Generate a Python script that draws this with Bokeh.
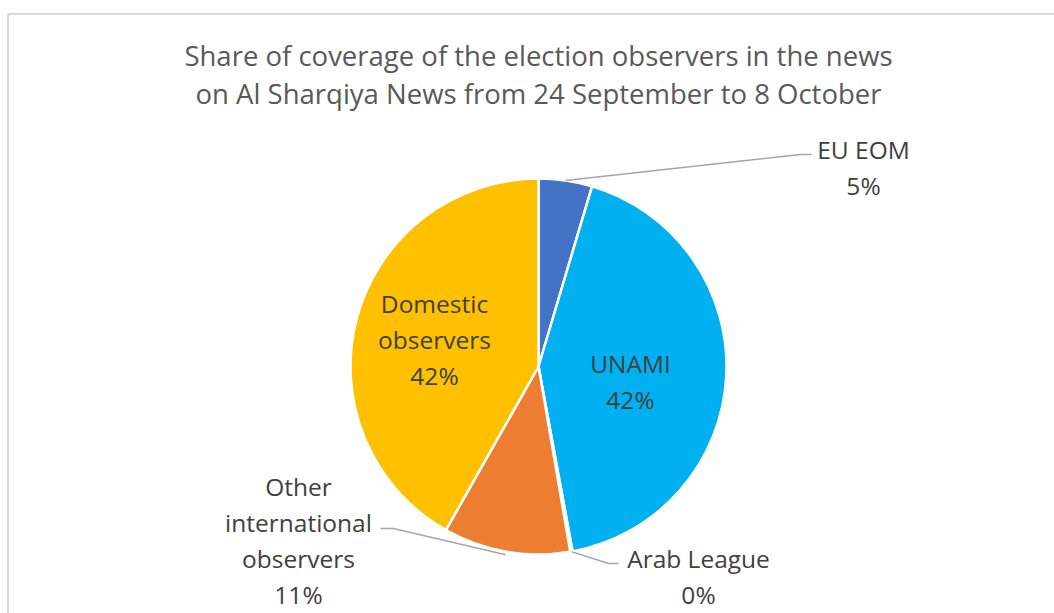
import math
from bokeh.plotting import figure
from bokeh.models import Range1d
from bokeh.core.properties import value
from bokeh.embed import file_html
from bokeh.resources import INLINE

# ---- data ----
categories = ["EU EOM", "UNAMI", "Arab League", "Other international observers", "Domestic observers"]
shares = [4.6, 42.5, 0.2, 10.9, 41.8]
pct_labels = ["5%", "42%", "0%", "11%", "42%"]
colors = ["#4472C4", "#00B0F0", "#A5A5A5", "#ED7D31", "#FFC000"]
title_lines = ["Share of coverage of the election observers in the news",
               "on Al Sharqiya News from 24 September to 8 October"]

W, H = 1054, 613
def px(x):  # screenshot x -> data x
    return x
def py(y):  # screenshot y -> data y
    return H - y

p = figure(width=W, height=H, output_backend="svg", toolbar_location=None,
           x_range=Range1d(0, W), y_range=Range1d(0, H),
           min_border=0, min_border_left=0, min_border_right=0,
           min_border_top=0, min_border_bottom=0)
p.axis.visible = False
p.grid.visible = False
p.outline_line_color = None
p.background_fill_color = "white"
p.border_fill_color = "white"

# chart frame (only top and left visible in window)
p.segment(x0=[px(7.5), px(7.5)], y0=[py(620), py(13.5)], x1=[px(7.5), px(1060)], y1=[py(13.5), py(13.5)],
          line_color="#D9D9D9", line_width=2)

# pie
cx, cy, r = px(538), py(366), 188
total = sum(shares)
cum = 0.0
starts, ends, mids = [], [], []
for s in shares:
    a0 = math.pi / 2 - 2 * math.pi * cum / total
    cum += s
    a1 = math.pi / 2 - 2 * math.pi * cum / total
    starts.append(a0)
    ends.append(a1)
    mids.append((a0 + a1) / 2)

p.wedge(x=[cx] * len(shares), y=[cy] * len(shares), radius=r, radius_units="screen",
        start_angle=starts, end_angle=ends, direction="clock",
        fill_color=colors, line_color="white", line_width=2.5)

font = value("Open Sans")
tcol = "#404040"

# title
p.text(x=[px(538), px(538)], y=[py(55), py(93)], text=title_lines,
       text_font=font, text_font_size="27.5px", text_color="#595959",
       text_align="center", text_baseline="middle")

# labels
def label(xc, yc, lines):
    n = len(lines)
    ys = [py(yc + 36 * i) for i in range(n)]
    p.text(x=[px(xc)] * n, y=ys, text=lines, text_font=font, text_font_size="24.5px",
           text_color=tcol, text_align="center", text_baseline="middle")

label(434, 303, ["Domestic", "observers", pct_labels[4]])
label(630, 363, ["UNAMI", pct_labels[1]])
label(863, 149, ["EU EOM", pct_labels[0]])
label(698, 558, ["Arab League", pct_labels[2]])
label(298, 486, ["Other", "international", "observers", pct_labels[3]])

# leader lines (start on the slice's arc midpoint)
def leader(i, elbow, end, rr=r):
    sx = cx + rr * math.cos(mids[i])
    sy = cy + rr * math.sin(mids[i])
    p.line(x=[sx, px(elbow[0]), px(end[0])], y=[sy, py(elbow[1]), py(end[1])],
           line_color="#A6A6A6", line_width=1.5)

leader(0, (800, 154), (811, 154))
leader(2, (608, 563), (618, 563))
leader(3, (393, 528), (380, 528), rr=r + 3)

open("out.html", "w").write(file_html(p, INLINE))
